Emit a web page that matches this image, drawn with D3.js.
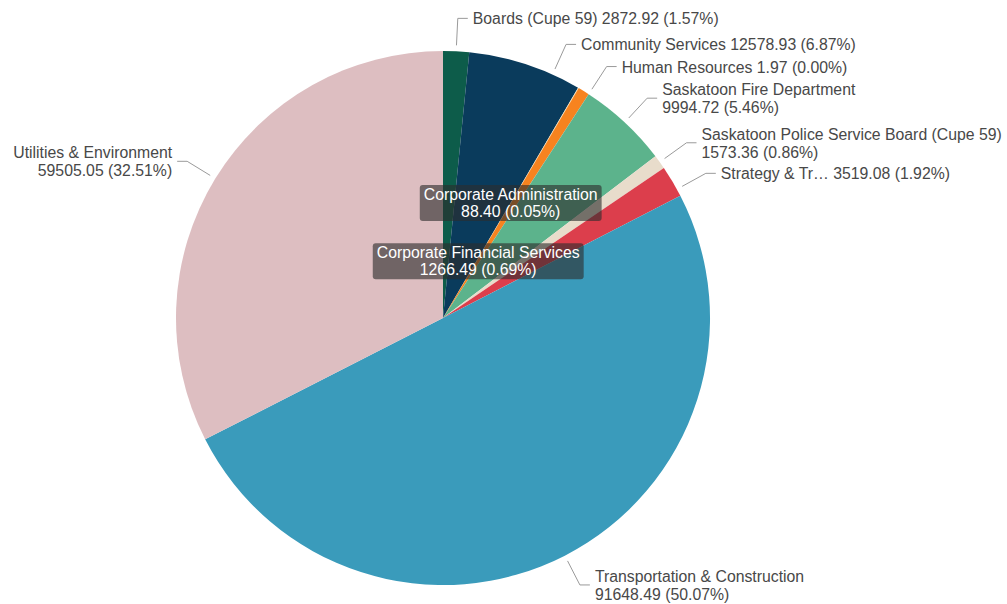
<!DOCTYPE html>
<html>
<head>
<meta charset="utf-8">
<script src="https://cdn.jsdelivr.net/npm/d3@7"></script>
<style>
  html, body { margin: 0; padding: 0; background: #ffffff; }
  svg { display: block; }
  text { font-family: "Liberation Sans", Arial, sans-serif; }
</style>
</head>
<body>
<svg id="chart" width="1007" height="604"></svg>
<script>
// Budget by division
const categories = [
  "Boards (Cupe 59)",
  "Community Services",
  "Corporate Administration",
  "Corporate Financial Services",
  "Human Resources",
  "Saskatoon Fire Department",
  "Saskatoon Police Service Board (Cupe 59)",
  "Strategy & Tr\u2026",
  "Transportation & Construction",
  "Utilities & Environment"
];
const values = [2872.92, 12578.93, 88.40, 1266.49, 1.97, 9994.72, 1573.36, 3519.08, 91648.49, 59505.05];
const colors = ["#0d5c4a", "#0a3b5c", "#f9e3b6", "#f7831f", "#9a9a9a",
                "#5cb38c", "#e8dccb", "#dc3e4c", "#3a9bbb", "#ddbec1"];

// Labels drawn as dark boxes inside the pie instead of outside
const insideLabels = ["Corporate Administration", "Corporate Financial Services"];

const W = 1007, H = 604;
const cx = 443, cy = 318, R = 267;
const deg = Math.PI / 180;
const fontSize = 15.8;

const svg = d3.select("#chart");
const g = svg.append("g").attr("transform", `translate(${cx},${cy})`);

const data = categories.map((c, i) => ({ name: c, value: values[i], color: colors[i] }));
const total = d3.sum(values);
const fmt = d3.format(".2f");

const pie = d3.pie().value(d => d.value).sort(null);
const arcs = pie(data);
const arc = d3.arc().innerRadius(0).outerRadius(R);

g.selectAll("path.slice")
  .data(arcs)
  .join("path")
  .attr("class", "slice")
  .attr("d", arc)
  .attr("fill", d => d.data.color);

// Outer labels with radial leader + short horizontal tail
const leaderShift = { "Community Services": 6.2, "Strategy & Tr\u2026": 1.9 };
const outer = arcs.filter(a => !insideLabels.includes(a.data.name));
const lineH = 18;

outer.forEach(a => {
  const mid = (a.startAngle + a.endAngle) / 2 + (leaderShift[a.data.name] || 0) * deg;
  const p = r => [r * Math.sin(mid), -r * Math.cos(mid)];
  const p0 = p(R + 6), p1 = p(R + 33);
  const right = Math.sin(mid) >= 0;
  const p2 = [p1[0] + (right ? 10 : -10), p1[1]];
  g.append("polyline")
    .attr("points", [p0, p1, p2].map(q => q.join(",")).join(" "))
    .attr("fill", "none")
    .attr("stroke", "#9a9a9a")
    .attr("stroke-width", 1);

  const pct = fmt(a.data.value / total * 100);
  const valueText = `${fmt(a.data.value)} (${pct}%)`;
  const lines = a.data.name.length > 20
    ? [a.data.name, valueText]
    : [`${a.data.name} ${valueText}`];
  const t = g.append("text")
    .attr("x", p2[0] + (right ? 5 : -5))
    .attr("y", p2[1] - (lines.length - 1) * lineH / 2)
    .attr("text-anchor", right ? "start" : "end")
    .attr("dominant-baseline", "central")
    .attr("font-size", fontSize)
    .attr("fill", "#484848");
  lines.forEach((l, i) => {
    t.append("tspan")
      .attr("x", p2[0] + (right ? 5 : -5))
      .attr("dy", i === 0 ? 0 : lineH)
      .text(l);
  });
});

// Inner boxed labels for the thin slices, stacked along their angle
const inner = arcs.filter(a => insideLabels.includes(a.data.name));
const innerRadii = [0.5, 0.25];
inner.forEach((a, k) => {
  const mid = (a.startAngle + a.endAngle) / 2;
  const r = R * innerRadii[k];
  const x = r * Math.sin(mid), y = -r * Math.cos(mid);
  const lab = g.append("g").attr("transform", `translate(${x},${y})`);
  const t = lab.append("text")
    .attr("text-anchor", "middle")
    .attr("font-size", fontSize)
    .attr("fill", "#ffffff");
  const pct = fmt(a.data.value / total * 100);
  [a.data.name, `${fmt(a.data.value)} (${pct}%)`].forEach((l, i) => {
    t.append("tspan")
      .attr("x", 0)
      .attr("y", (i - 0.5) * 17)
      .attr("dominant-baseline", "central")
      .text(l);
  });
  const bb = t.node().getBBox();
  lab.insert("rect", "text")
    .attr("x", bb.x - 4)
    .attr("y", bb.y - 1)
    .attr("width", bb.width + 8)
    .attr("height", bb.height + 2)
    .attr("rx", 3)
    .attr("fill", "rgba(45,45,45,0.62)");
});
</script>
</body>
</html>
